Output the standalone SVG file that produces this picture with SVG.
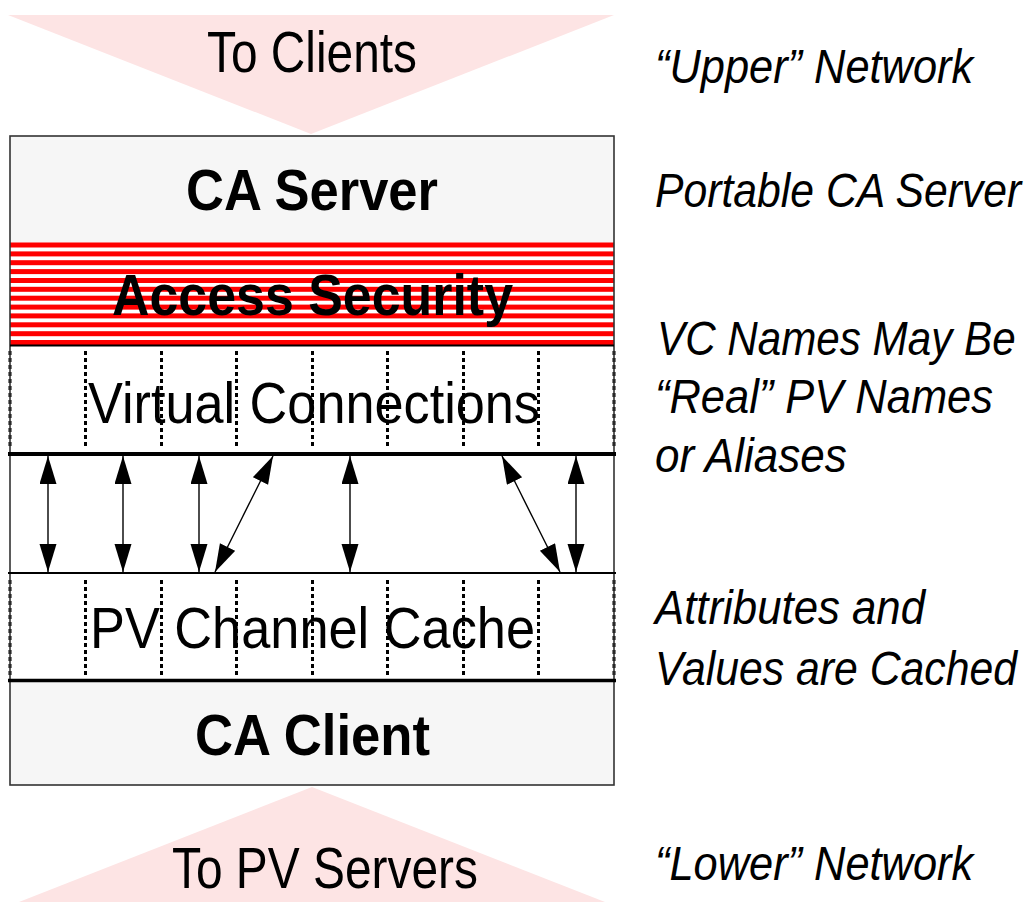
<svg xmlns="http://www.w3.org/2000/svg" width="1036" height="902" viewBox="0 0 1036 902">
  <style>
    .net { fill: #fde4e4; }
    .lbl { font-family: "Liberation Sans", Arial, sans-serif; font-size: 58px; fill: #000; text-anchor: start; }
    .bold { font-family: "Liberation Sans", Arial, sans-serif; font-size: 58px; font-weight: bold; fill: #000; }
    .note { font-family: "Liberation Sans", Arial, sans-serif; font-size: 49px; font-style: italic; fill: #000; }
    .band { fill: #f6f6f6; }
    .divider { stroke: #000; fill: none; }
    .dots { stroke: #000; stroke-width: 3; stroke-dasharray: 4 3; fill: none; }
    .stripe { fill: #ff0000; }
    .link { stroke: #000; stroke-width: 1.4; fill: none; marker-start: url(#head); marker-end: url(#head); }
  </style>
  <defs>
    <marker id="head" markerUnits="userSpaceOnUse" markerWidth="30" markerHeight="20" refX="28" refY="8.5" orient="auto-start-reverse" viewBox="0 0 30 20">
      <path d="M0,0 L28,8.5 L0,17 Z" fill="#000"/>
    </marker>
  </defs>

  <!-- upstream network -->
  <g id="upper-network">
    <polygon class="net" points="8,15 614,15 311,134"/>
    <text class="lbl" x="207" y="72" font-size="60" textLength="210" lengthAdjust="spacingAndGlyphs">To Clients</text>
  </g>

  <!-- downstream network -->
  <g id="lower-network">
    <polygon class="net" points="312,787 605,902 19,902"/>
    <text class="lbl" x="172" y="888" font-size="60" textLength="306" lengthAdjust="spacingAndGlyphs">To PV Servers</text>
  </g>

  <!-- gateway stack -->
  <g id="ca-server">
    <rect class="band" x="10" y="136" width="604" height="107"/>
    <text class="bold" x="186" y="210" font-size="57" textLength="252" lengthAdjust="spacingAndGlyphs">CA Server</text>
  </g>

  <g id="access-security">
    <rect x="10" y="243" width="604" height="102" fill="#fff"/>
    <rect class="stripe" x="10" y="242.5" width="604" height="5"/>
    <rect class="stripe" x="10" y="251.4" width="604" height="5"/>
    <rect class="stripe" x="10" y="260.2" width="604" height="5"/>
    <rect class="stripe" x="10" y="269.1" width="604" height="5"/>
    <rect class="stripe" x="10" y="278" width="604" height="5"/>
    <rect class="stripe" x="10" y="286.8" width="604" height="5"/>
    <rect class="stripe" x="10" y="295.7" width="604" height="5"/>
    <rect class="stripe" x="10" y="304.6" width="604" height="5"/>
    <rect class="stripe" x="10" y="313.4" width="604" height="5"/>
    <rect class="stripe" x="10" y="322.3" width="604" height="5"/>
    <rect class="stripe" x="10" y="331.2" width="604" height="5"/>
    <rect class="stripe" x="10" y="340" width="604" height="5"/>
    <text class="bold" x="112" y="315" font-size="61" textLength="401" lengthAdjust="spacingAndGlyphs">Access Security</text>
  </g>

  <g id="virtual-connections">
    <rect x="10" y="346" width="604" height="106" fill="#fff"/>
    <g class="dots">
      <line x1="10" y1="351" x2="10" y2="448"/>
      <line x1="85.5" y1="351" x2="85.5" y2="448"/>
      <line x1="161.5" y1="351" x2="161.5" y2="448"/>
      <line x1="236.5" y1="351" x2="236.5" y2="448"/>
      <line x1="312.5" y1="351" x2="312.5" y2="448"/>
      <line x1="387.5" y1="351" x2="387.5" y2="448"/>
      <line x1="463.5" y1="351" x2="463.5" y2="448"/>
      <line x1="538.5" y1="351" x2="538.5" y2="448"/>
      <line x1="614" y1="351" x2="614" y2="448"/>
    </g>
    <text class="lbl" x="88" y="423" font-size="61" textLength="452" lengthAdjust="spacingAndGlyphs">Virtual Connections</text>
  </g>

  <g id="link-area">
    <rect x="10" y="455" width="604" height="117" fill="#fff"/>
  </g>

  <g id="pv-channel-cache">
    <rect x="10" y="574" width="604" height="105" fill="#fff"/>
    <g class="dots">
      <line x1="10" y1="580" x2="10" y2="676"/>
      <line x1="85.5" y1="580" x2="85.5" y2="676"/>
      <line x1="161.5" y1="580" x2="161.5" y2="676"/>
      <line x1="236.5" y1="580" x2="236.5" y2="676"/>
      <line x1="312.5" y1="580" x2="312.5" y2="676"/>
      <line x1="387.5" y1="580" x2="387.5" y2="676"/>
      <line x1="463.5" y1="580" x2="463.5" y2="676"/>
      <line x1="538.5" y1="580" x2="538.5" y2="676"/>
      <line x1="614" y1="580" x2="614" y2="676"/>
    </g>
    <text class="lbl" x="90" y="648" font-size="61" textLength="445" lengthAdjust="spacingAndGlyphs">PV Channel Cache</text>
  </g>

  <g id="ca-client">
    <rect class="band" x="10" y="681" width="604" height="104"/>
    <text class="bold" x="195" y="755" font-size="57" textLength="235" lengthAdjust="spacingAndGlyphs">CA Client</text>
  </g>

  <!-- outline and layer dividers -->
  <g id="frame">
    <rect x="10" y="136" width="604" height="649" fill="none" stroke="#333" stroke-width="1.6"/>
    <line class="divider" x1="10" y1="345.5" x2="614" y2="345.5" stroke-width="2"/>
    <line class="divider" x1="8" y1="454" x2="616" y2="454" stroke-width="4"/>
    <line class="divider" x1="8" y1="573" x2="616" y2="573" stroke-width="2.2"/>
    <line class="divider" x1="8" y1="680.5" x2="616" y2="680.5" stroke-width="3.4"/>
  </g>

  <!-- connections between virtual connections and cached channels -->
  <g id="connectors">
    <line class="link" x1="48" y1="456" x2="48" y2="572"/>
    <line class="link" x1="123" y1="456" x2="123" y2="572"/>
    <line class="link" x1="199" y1="456" x2="199" y2="572"/>
    <line class="link" x1="273" y1="456" x2="215" y2="572"/>
    <line class="link" x1="350" y1="456" x2="350" y2="572"/>
    <line class="link" x1="502" y1="456" x2="560" y2="572"/>
    <line class="link" x1="576" y1="456" x2="576" y2="572"/>
  </g>

  <!-- side notes, set in a narrowed oblique face -->
  <g id="notes">
    <text class="note" transform="translate(655,83) scale(0.86,1)" textLength="370" lengthAdjust="spacingAndGlyphs">“Upper” Network</text>
    <text class="note" transform="translate(655,207) scale(0.86,1)" textLength="426" lengthAdjust="spacingAndGlyphs">Portable CA Server</text>
    <text class="note" transform="translate(657,355) scale(0.86,1)" textLength="417" lengthAdjust="spacingAndGlyphs">VC Names May Be</text>
    <text class="note" transform="translate(655,413) scale(0.86,1)" textLength="393" lengthAdjust="spacingAndGlyphs">“Real” PV Names</text>
    <text class="note" transform="translate(655,472) scale(0.86,1)" textLength="223" lengthAdjust="spacingAndGlyphs">or Aliases</text>
    <text class="note" transform="translate(655,624) scale(0.86,1)" textLength="314" lengthAdjust="spacingAndGlyphs">Attributes and</text>
    <text class="note" transform="translate(655,685) scale(0.86,1)" textLength="421" lengthAdjust="spacingAndGlyphs">Values are Cached</text>
    <text class="note" transform="translate(655,880) scale(0.86,1)" textLength="370" lengthAdjust="spacingAndGlyphs">“Lower” Network</text>
  </g>
</svg>
